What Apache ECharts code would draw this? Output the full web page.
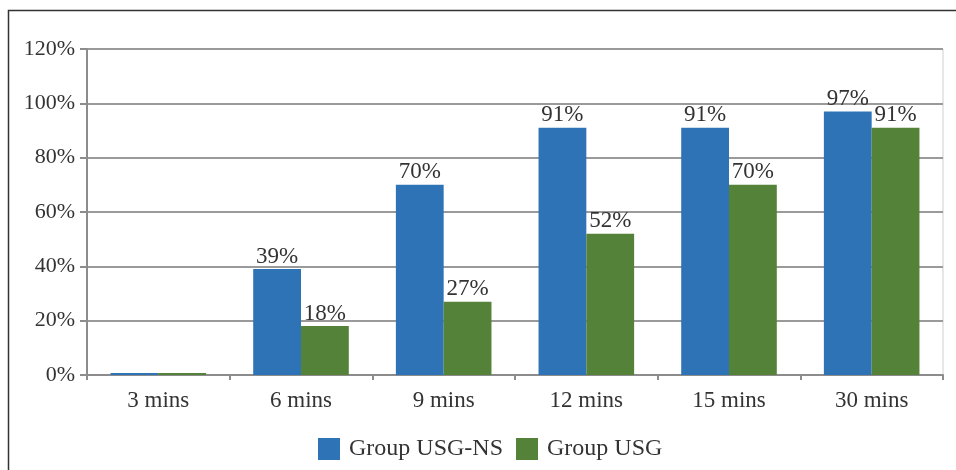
<!DOCTYPE html>
<html><head><meta charset="utf-8">
<script src="https://cdn.jsdelivr.net/npm/echarts@6/dist/echarts.min.js"></script>
<style>html,body{margin:0;padding:0;background:#fff}#c{width:956px;height:470px}</style>
</head><body><div id="c"></div>
<script>
var categories = ['3 mins','6 mins','9 mins','12 mins','15 mins','30 mins'];
var seriesNames = ['Group USG-NS','Group USG'];
var usgNs = [0, 39, 70, 91, 91, 97];
var usg = [0, 18, 27, 52, 70, 91];
var yTicks = {min: 0, max: 120, interval: 20};
var FONT = 'Liberation Serif';
var chart = echarts.init(document.getElementById('c'));
function lbl(){
  return {show:true, position:'top', distance:1, color:'#333', fontFamily:FONT, fontSize:23,
    formatter:function(p){return p.value===0?'':p.value+'%';}};
}
chart.setOption({
  animation:false,
  graphic:[{type:'rect', shape:{x:8.5,y:10.5,width:1000,height:600}, style:{fill:'none', stroke:'#333', lineWidth:1.5}, silent:true}],
  grid:{left:87, right:13, top:49, bottom:95, show:true, borderColor:'#cfcfcf', borderWidth:1},
  legend:{top:432, left:313, itemWidth:22, itemHeight:22, itemGap:13, icon:'rect',
    textStyle:{fontFamily:FONT, fontSize:24, color:'#333', padding:[0,0,0,4]},
    data:seriesNames},
  xAxis:{type:'category', data:categories,
    axisLine:{lineStyle:{color:'#8c8c8c', width:2}},
    axisTick:{show:true, length:5, lineStyle:{color:'#8c8c8c', width:2}},
    axisLabel:{color:'#333', fontFamily:FONT, fontSize:23, margin:14}},
  yAxis:{type:'value', min:yTicks.min, max:yTicks.max, interval:yTicks.interval,
    axisLine:{show:true, lineStyle:{color:'#8c8c8c', width:2}},
    axisTick:{show:true, length:7, lineStyle:{color:'#8c8c8c', width:2}},
    axisLabel:{color:'#333', fontFamily:FONT, fontSize:22, margin:12, formatter:'{value}%'},
    splitLine:{lineStyle:{color:'#9a9a9a', width:2}}},
  series:[
    {name:seriesNames[0], type:'bar', data:usgNs, barGap:'0%', barCategoryGap:'33%', barMinHeight:2,
     itemStyle:{color:'#2e73b6'}, label:lbl()},
    {name:seriesNames[1], type:'bar', data:usg, barGap:'0%', barCategoryGap:'33%', barMinHeight:2,
     itemStyle:{color:'#548238'}, label:lbl()}
  ]
});
</script></body></html>
